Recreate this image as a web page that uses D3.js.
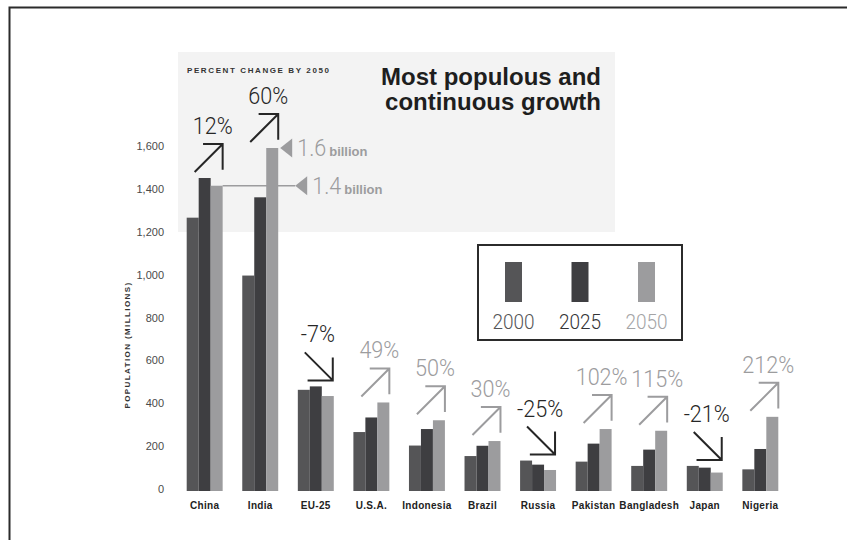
<!DOCTYPE html>
<html>
<head>
<meta charset="utf-8">
<script src="https://cdn.jsdelivr.net/npm/d3@7"></script>
<style>
  body { margin: 0; background: #fff; }
  svg { display: block; }
</style>
</head>
<body>
<div id="chart"></div>
<script>
// the data (millions)
var categories = ["China", "India", "EU-25", "U.S.A.", "Indonesia", "Brazil", "Russia", "Pakistan", "Bangladesh", "Japan", "Nigeria"];
var years = ["2000", "2025", "2050"];
var pop2000 = [1275, 1005, 472, 275, 212, 163, 142, 137, 117, 117, 101];
var pop2025 = [1460, 1370, 488, 343, 289, 211, 123, 221, 193, 109, 196];
var pop2050 = [1424, 1600, 443, 413, 330, 233, 98, 289, 281, 86, 346];
var pctChange = [12, 60, -7, 49, 50, 30, -25, 102, 115, -21, 212];
var yTicks = [0, 200, 400, 600, 800, 1000, 1200, 1400, 1600];
var emphasis = ["China", "India"];

function init() {
    var w = 847;
    var h = 540;

    var svg = d3.select("#chart")
                .append("svg")
                .attr("width", w)
                .attr("height", h);

    // frame on top and left
    svg.append("path")
        .attr("d", "M9.5,540 V7.5 H847")
        .attr("fill", "none")
        .attr("stroke", "#2b2b2b")
        .attr("stroke-width", 2);

    // light panel behind the two giants
    svg.append("rect")
        .attr("x", 178).attr("y", 52)
        .attr("width", 437).attr("height", 180)
        .attr("fill", "#f3f3f3");

    var x = d3.scaleBand()
              .domain(categories)
              .range([186.7, 778.3])
              .paddingInner(0.353)
              .paddingOuter(0);

    var xSub = d3.scaleBand()
                 .domain(years)
                 .range([0, x.bandwidth()]);

    var y = d3.scaleLinear()
              .domain([0, 1600])
              .range([491, 148]);

    var color = d3.scaleOrdinal()
                  .domain(years)
                  .range(["#555557", "#3e3e41", "#9c9c9e"]);

    var rows = categories.map(function(c, i) {
        return { name: c, values: [pop2000[i], pop2025[i], pop2050[i]], change: pctChange[i] };
    });

    // y axis, numbers only
    var yAxis = d3.axisLeft(y)
                  .tickValues(yTicks)
                  .tickSize(0)
                  .tickPadding(0)
                  .tickFormat(d3.format(","));

    var gy = svg.append("g")
        .attr("transform", "translate(164,-2)")
        .call(yAxis);
    gy.select(".domain").remove();
    gy.selectAll("text")
        .attr("font-family", "Liberation Sans, Arial, sans-serif")
        .attr("font-size", 11)
        .attr("fill", "#4a4a4a");

    svg.append("text")
        .attr("transform", "translate(130,345) rotate(-90)")
        .attr("text-anchor", "middle")
        .attr("font-family", "Liberation Sans, Arial, sans-serif")
        .attr("font-weight", "bold")
        .attr("font-size", 8)
        .attr("letter-spacing", 1.4)
        .attr("fill", "#333")
        .text("POPULATION (MILLIONS)");

    // the 1.4 billion guide line sits behind the bars
    var chinaRight = x("China") + x.bandwidth();
    var indiaRight = x("India") + x.bandwidth();
    var y14 = y(pop2050[0]);
    var y16 = y(pop2050[1]);
    svg.append("line")
        .attr("x1", chinaRight).attr("x2", indiaRight + 17)
        .attr("y1", y14).attr("y2", y14)
        .attr("stroke", "#9c9c9e")
        .attr("stroke-width", 1.5);

    var groups = svg.selectAll("g.country")
        .data(rows)
        .enter()
        .append("g")
        .attr("class", "country")
        .attr("transform", function(d) { return "translate(" + x(d.name) + ",0)"; });

    groups.selectAll("rect")
        .data(function(d) { return d.values.map(function(v, i) { return { year: years[i], value: v }; }); })
        .enter()
        .append("rect")
        .attr("x", function(d) { return xSub(d.year); })
        .attr("width", xSub.bandwidth())
        .attr("y", function(d) { return y(d.value); })
        .attr("height", function(d) { return y(0) - y(d.value); })
        .attr("fill", function(d) { return color(d.year); });

    // category names
    groups.append("text")
        .attr("x", x.bandwidth() / 2)
        .attr("y", 509)
        .attr("text-anchor", "middle")
        .attr("font-family", "Liberation Sans, Arial, sans-serif")
        .attr("font-weight", "bold")
        .attr("font-size", 10)
        .attr("letter-spacing", 0.3)
        .attr("fill", "#222")
        .text(function(d) { return d.name; });

    // arrows and percent labels
    var aw = 28, ah = 28;
    groups.each(function(d) {
        var g = d3.select(this);
        var dark = d.change < 0 || emphasis.indexOf(d.name) >= 0;
        var col = dark ? "#262626" : "#9c9c9e";
        var bottom = y(d3.max(d.values)) - 6;
        var top = bottom - ah;
        var right = d.change < 0 ? x.bandwidth() - 1 : x.bandwidth();
        var left = right - aw;
        var p;
        if (d.change >= 0) {
            p = "M" + left + "," + bottom + " L" + right + "," + top +
                " M" + (right - aw * 0.7) + "," + top + " H" + right + " V" + (top + ah * 0.92);
        } else {
            p = "M" + left + "," + top + " L" + right + "," + bottom +
                " M" + right + "," + (bottom - ah * 0.82) + " V" + bottom + " H" + (right - aw * 0.9);
        }
        g.append("path")
            .attr("d", p)
            .attr("fill", "none")
            .attr("stroke", col)
            .attr("stroke-width", 2);

        var cx = (left + right) / 2 + (d.change >= 0 ? 4 : -1);
        g.append("text")
            .attr("transform", "translate(" + cx + "," + (top - 10) + ") scale(0.9,1)")
            .attr("text-anchor", "middle")
            .attr("font-family", "Roboto, sans-serif")
            .attr("font-weight", 300)
            .attr("font-size", 24)
            .attr("fill", col)
            .text((d.change < 0 ? "-" : "") + Math.abs(d.change) + "%");
    });

    // billion call-outs
    var callouts = [
        { tip: indiaRight + 2, yy: y16, label: d3.format(".1f")(pop2050[1] / 1000) },
        { tip: indiaRight + 17, yy: y14, label: d3.format(".1f")(pop2050[0] / 1000) }
    ];
    callouts.forEach(function(c) {
        svg.append("path")
            .attr("d", "M" + c.tip + "," + c.yy + " L" + (c.tip + 12) + "," + (c.yy - 9.5) + " L" + (c.tip + 12) + "," + (c.yy + 9.5) + "Z")
            .attr("fill", "#9c9c9e");
        svg.append("text")
            .attr("transform", "translate(" + (c.tip + 17) + "," + (c.yy + 8) + ") scale(0.9,1)")
            .attr("font-family", "Roboto, sans-serif")
            .attr("font-weight", 300)
            .attr("font-size", 24)
            .attr("fill", "#9c9c9e")
            .text(c.label);
        svg.append("text")
            .attr("x", c.tip + 49)
            .attr("y", c.yy + 8)
            .attr("font-family", "Liberation Sans, Arial, sans-serif")
            .attr("font-weight", "bold")
            .attr("font-size", 13)
            .attr("fill", "#9c9c9e")
            .text("billion");
    });

    // headings in the panel
    svg.append("text")
        .attr("x", 187).attr("y", 73)
        .attr("font-family", "Liberation Sans, Arial, sans-serif")
        .attr("font-weight", "bold")
        .attr("font-size", 8)
        .attr("letter-spacing", 1.6)
        .attr("fill", "#333")
        .text("PERCENT CHANGE BY 2050");

    var title = svg.append("text")
        .attr("text-anchor", "end")
        .attr("font-family", "Liberation Sans, Arial, sans-serif")
        .attr("font-weight", "bold")
        .attr("font-size", 24)
        .attr("fill", "#1e1e1e");
    title.append("tspan").attr("x", 601).attr("y", 85).text("Most populous and");
    title.append("tspan").attr("x", 601).attr("y", 110).text("continuous growth");

    // legend
    var legend = svg.append("g");
    legend.append("rect")
        .attr("x", 478).attr("y", 245)
        .attr("width", 204).attr("height", 95)
        .attr("fill", "#fff")
        .attr("stroke", "#2b2b2b")
        .attr("stroke-width", 2);

    var lx = d3.scalePoint().domain(years).range([513.5, 646.5]);
    var legendText = d3.scaleOrdinal().domain(years).range(["#555557", "#333336", "#a4a4a6"]);

    legend.selectAll("rect.key")
        .data(years)
        .enter()
        .append("rect")
        .attr("class", "key")
        .attr("x", function(d) { return lx(d) - 8.5; })
        .attr("y", 262)
        .attr("width", 17)
        .attr("height", 40)
        .attr("fill", function(d) { return color(d); });

    legend.selectAll("text")
        .data(years)
        .enter()
        .append("text")
        .attr("transform", function(d) { return "translate(" + lx(d) + ",329) scale(0.95,1)"; })
        .attr("text-anchor", "middle")
        .attr("font-family", "Roboto, sans-serif")
        .attr("font-weight", 300)
        .attr("font-size", 20)
        .attr("fill", function(d) { return legendText(d); })
        .text(function(d) { return d; });
}

window.onload = init;
</script>
</body>
</html>
